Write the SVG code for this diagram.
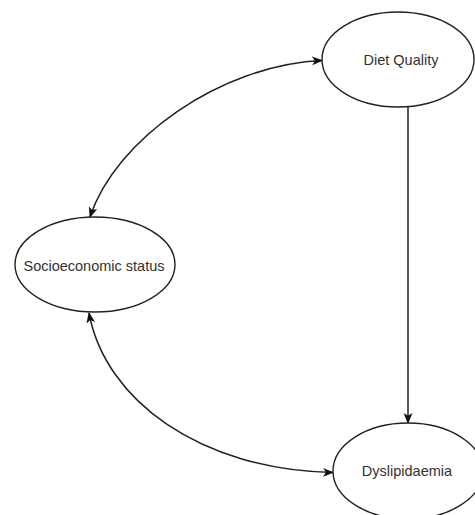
<svg xmlns="http://www.w3.org/2000/svg" width="475" height="515" viewBox="0 0 475 515">
<defs>
<style>
.node{fill:#ffffff;stroke:#222222;stroke-width:1.4}
.lbl{font-family:"Liberation Sans",Arial,sans-serif;font-size:14.5px;fill:#333333;text-anchor:middle}
.edge{fill:none;stroke:#222222;stroke-width:1.5}
</style>
<marker id="arr" viewBox="0 0 10 10" refX="9" refY="5" markerWidth="11" markerHeight="11" markerUnits="userSpaceOnUse" orient="auto-start-reverse">
<path d="M0,1 L10,5 L0,9 L2.5,5 Z" fill="#111111"/>
</marker>
</defs>
<rect width="475" height="515" fill="#ffffff"/>
<g id="connectors">
<path class="edge" d="M90,217 C115,140 220,65 322,60.5" marker-start="url(#arr)" marker-end="url(#arr)"/>
<path class="edge" d="M89,313 C105,400 200,470 333,472.5" marker-start="url(#arr)" marker-end="url(#arr)"/>
<path class="edge" d="M408,106 L408,423" marker-end="url(#arr)"/>
</g>
<g id="diet-quality">
<ellipse class="node" cx="398" cy="59.5" rx="76" ry="47.5"/>
<text class="lbl" x="401" y="65">Diet Quality</text>
</g>
<g id="socioeconomic-status">
<ellipse class="node" cx="95" cy="264.5" rx="80" ry="47.5"/>
<text class="lbl" x="94" y="271">Socioeconomic status</text>
</g>
<g id="dyslipidaemia">
<ellipse class="node" cx="408" cy="471" rx="75" ry="48"/>
<text class="lbl" x="407" y="476">Dyslipidaemia</text>
</g>
</svg>
